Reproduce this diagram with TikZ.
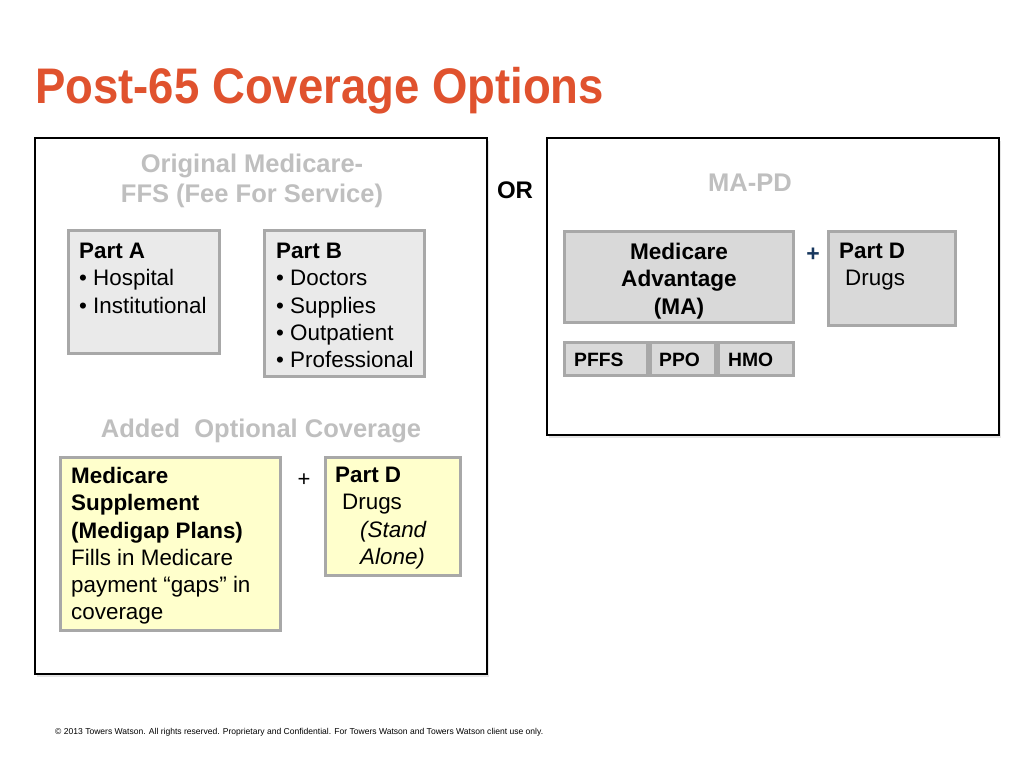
\documentclass[tikz,border=0pt]{standalone}
\usepackage{fontspec}
\setmainfont{Liberation Sans}
\newfontfamily\titlefont[FakeStretch=0.91]{Liberation Sans}
\usetikzlibrary{positioning,shadows}
\definecolor{titlered}{RGB}{224,82,46}
\definecolor{hdrgray}{RGB}{191,191,191}
\definecolor{boxedge}{RGB}{168,168,168}
\definecolor{lightfill}{RGB}{234,234,234}
\definecolor{mafill}{RGB}{217,217,217}
\definecolor{gapfill}{RGB}{255,255,204}
\definecolor{plusblue}{RGB}{23,55,94}
\tikzstyle{panel} = [draw=black, line width=2pt, fill=white, anchor=north west, inner sep=0pt, drop shadow={opacity=0.2, shadow xshift=1.5pt, shadow yshift=-2.5pt}]
\tikzstyle{part} = [draw=boxedge, line width=3pt, anchor=north west, inner sep=0pt]
\tikzstyle{body} = [anchor=north west, align=left, inner sep=0pt, font=\fontsize{22.4}{27.3}\selectfont]
\tikzstyle{head} = [text=hdrgray, inner sep=0pt, align=center, font=\bfseries\fontsize{25.5}{30}\selectfont]
\tikzstyle{plan} = [anchor=base west, inner sep=0pt, font=\bfseries\fontsize{19.3}{20}\selectfont]
\def\ind#1{\hspace*{#1pt}}

\begin{document}
\begin{tikzpicture}[x=1pt,y=-1pt]
\useasboundingbox[fill=white] (0,0) rectangle (1024,768);

\node[anchor=base west, inner sep=0pt, text=titlered, font=\titlefont\bfseries\fontsize{50}{56}\selectfont] (title) at (35,103) {Post-65 Coverage Options};

% left panel
\node[panel, minimum width=452, minimum height=536] (orig) at (34,137) {};
\node[head, anchor=north] (orighead) at (252,154) {Original Medicare-\\FFS (Fee For Service)};

\node[part, fill=lightfill, minimum width=151, minimum height=123] (partA) at (67,229) {};
\node[body] (partAtxt) at (79,243) {\textbf{Part A}\\\textbullet\ Hospital\\\textbullet\ Institutional};

\node[part, fill=lightfill, minimum width=160, minimum height=146] (partB) at (263,229) {};
\node[body] (partBtxt) at (276,243) {\textbf{Part B}\\\textbullet\ Doctors\\\textbullet\ Supplies\\\textbullet\ Outpatient\\\textbullet\ Professional};

\node[head, anchor=base] (addhead) at (261,437) {Added\ \ Optional Coverage};

\node[part, fill=gapfill, minimum width=220, minimum height=173] (medigap) at (59,456) {};
\node[body] (medigaptxt) at (71,467) {\textbf{Medicare}\\\textbf{Supplement}\\\textbf{(Medigap Plans)}\\Fills in Medicare\\payment “gaps” in\\coverage};

\node[font=\fontsize{22}{24}\selectfont, inner sep=0pt] (plusL) at (304,480) {+};

\node[part, fill=gapfill, minimum width=135, minimum height=118] (partDL) at (324,456) {};
\node[body] (partDLtxt) at (335,467) {\textbf{Part D}\\\ind{7}Drugs\\\ind{25}\textit{(Stand}\\\ind{25}\textit{Alone)}};

\node[anchor=base, inner sep=0pt, font=\bfseries\fontsize{24}{26}\selectfont] (or) at (515,198) {OR};

% right panel
\node[panel, minimum width=452, minimum height=297] (mapd) at (546,137) {};
\node[head, anchor=base] (mapdhead) at (750,191) {MA-PD};

\node[part, fill=mafill, minimum width=229, minimum height=91] (ma) at (563,230) {};
\node[body, anchor=north, align=center, font=\bfseries\fontsize{22.6}{27.3}\selectfont] (matxt) at (679,243) {Medicare\\Advantage\\(MA)};

\node[text=plusblue, font=\bfseries\fontsize{23}{24}\selectfont, inner sep=0pt] (plusR) at (813,255) {+};

\node[part, fill=mafill, minimum width=127, minimum height=94] (partDR) at (827,230) {};
\node[body] (partDRtxt) at (839,243) {\textbf{Part D}\\\ind{6}Drugs};

\node[part, fill=mafill, minimum width=83, minimum height=33] (pffs) at (563,341) {};
\node[part, fill=mafill, minimum width=65, minimum height=33] (ppo) at (649,341) {};
\node[part, fill=mafill, minimum width=75, minimum height=33] (hmo) at (717,341) {};
\node[plan] (pffstxt) at (574,366) {PFFS};
\node[plan] (ppotxt) at (659,366) {PPO};
\node[plan] (hmotxt) at (728,366) {HMO};

\node[anchor=base west, inner sep=0pt, font=\fontsize{8.55}{10}\selectfont] (foot) at (55,734) {© 2013 Towers Watson. All rights reserved. Proprietary and Confidential. For Towers Watson and Towers Watson client use only.};

\end{tikzpicture}
\end{document}
